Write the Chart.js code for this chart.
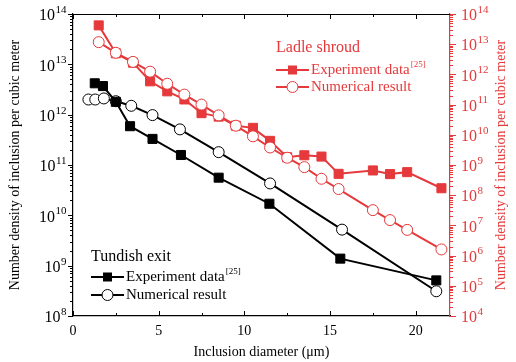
<!DOCTYPE html>
<html><head><meta charset="utf-8">
<script src="https://cdn.jsdelivr.net/npm/chart.js@4/dist/chart.umd.min.js"></script>
<style>html,body{margin:0;padding:0;background:#fff}#wrap{width:516px;height:362px}</style>
</head><body><div id="wrap"><canvas id="c" width="516" height="362"></canvas></div>
<script>
// ---- data ----
const tundishExpX = [1.27, 1.75, 2.5, 3.33, 4.64, 6.3, 8.5, 11.46, 15.6, 21.2];
const tundishExpY = [4.2e12, 3.7e12, 1.8e12, 5.9e11, 3.3e11, 1.58e11, 5.6e10, 1.7e10, 1.38e9, 5.1e8];
const tundishNumX = [0.9, 1.3, 1.8, 2.5, 3.4, 4.64, 6.24, 8.5, 11.5, 15.7, 21.2];
const tundishNumY = [2.0e12, 2.0e12, 2.1e12, 1.85e12, 1.5e12, 9.8e11, 5.1e11, 1.8e11, 4.3e10, 5.2e9, 3.1e8];
const ladleExpX = [1.5, 2.5, 3.5, 4.5, 5.5, 6.5, 7.5, 8.5, 9.5, 10.5, 11.5, 12.5, 13.5, 14.5, 15.5, 17.5, 18.5, 19.5, 21.5];
const ladleExpY = [4.2e13, 5.0e12, 2.45e12, 5.9e11, 2.75e11, 1.48e11, 5.2e10, 4.0e10, 2.0e10, 1.7e10, 6.3e9, 1.8e9, 2.1e9, 1.9e9, 5.1e8, 6.6e8, 5.0e8, 5.8e8, 1.7e8];
const ladleNumX = [1.5, 2.5, 3.5, 4.5, 5.5, 6.5, 7.5, 8.5, 9.5, 10.5, 11.5, 12.5, 13.5, 14.5, 15.5, 17.5, 18.5, 19.5, 21.5];
const ladleNumY = [1.17e13, 5.2e12, 2.6e12, 1.23e12, 4.9e11, 2.14e11, 1.0e11, 4.4e10, 2.0e10, 8.9e9, 3.8e9, 1.74e9, 8.5e8, 3.5e8, 1.6e8, 3.2e7, 1.5e7, 7.1e6, 1.6e6];
const xTicks = [0, 5, 10, 15, 20];
const leftDecades = [8, 9, 10, 11, 12, 13, 14];
const rightDecades = [4, 5, 6, 7, 8, 9, 10, 11, 12, 13, 14];
const yTitle = 'Number density of inclusion per cubic meter';
const xTitle = 'Inclusion diameter (\u03bcm)';
const ladleTitle = 'Ladle shroud';
const tundishTitle = 'Tundish exit';
const expLabel = 'Experiment data';
const expRef = '[25]';
const numLabel = 'Numerical result';

const RED = '#e5393b';
const FONT = '"Liberation Serif", "Times New Roman", serif';
const pts = (xs, ys) => xs.map((x, i) => ({x: x, y: ys[i]}));

const axisPlugin = {
  id: 'axisDeco',
  afterDraw(chart) {
    const ctx = chart.ctx;
    const xs = chart.scales.x, yl = chart.scales.y, yr = chart.scales.y2;
    const ca = chart.chartArea;
    ctx.save();
    // top frame line
    ctx.strokeStyle = '#000'; ctx.lineWidth = 1.2;
    ctx.beginPath(); ctx.moveTo(ca.left, ca.top + 0.5); ctx.lineTo(ca.right, ca.top + 0.5); ctx.stroke();
    // x ticks (inward, bottom and top)
    ctx.lineWidth = 1;
    for (let v = 0; v <= 22; v += 2.5) {
      const px = Math.round(xs.getPixelForValue(v)) + 0.5;
      const len = (v % 5 === 0) ? 5 : 3;
      ctx.beginPath();
      ctx.moveTo(px, ca.bottom); ctx.lineTo(px, ca.bottom - len);
      ctx.moveTo(px, ca.top); ctx.lineTo(px, ca.top + len);
      ctx.stroke();
    }
    // x tick labels
    ctx.fillStyle = '#000'; ctx.font = '14px ' + FONT;
    ctx.textAlign = 'center'; ctx.textBaseline = 'top';
    xTicks.forEach(v => ctx.fillText(String(v), xs.getPixelForValue(v), ca.bottom + 8));
    // log ticks (outward)
    const drawLogTicks = (scale, decs, x, dir, color, majLen, minLen) => {
      ctx.strokeStyle = color;
      for (let i = 0; i < decs.length; i++) {
        const d = decs[i];
        const mMax = (i === decs.length - 1) ? 1 : 9;
        for (let m = 1; m <= mMax; m++) {
          const py = Math.round(scale.getPixelForValue(m * Math.pow(10, d))) + 0.5;
          const len = m === 1 ? majLen : minLen;
          ctx.beginPath(); ctx.moveTo(x, py); ctx.lineTo(x + dir * len, py); ctx.stroke();
        }
      }
    };
    drawLogTicks(yl, leftDecades, ca.left, -1, '#000', 5, 3);
    drawLogTicks(yr, rightDecades, ca.right, 1, RED, 6, 3);
    // log tick labels
    const drawPow = (xPos, py, d, align, color) => {
      ctx.fillStyle = color;
      ctx.textBaseline = 'middle';
      ctx.font = '16px ' + FONT;
      const bw = ctx.measureText('10').width;
      ctx.font = '11px ' + FONT;
      const ew = ctx.measureText(String(d)).width;
      const x0 = align === 'right' ? xPos - bw - ew : xPos;
      ctx.textAlign = 'left';
      ctx.font = '16px ' + FONT;
      ctx.fillText('10', x0, py + 2);
      ctx.font = '11px ' + FONT;
      ctx.fillText(String(d), x0 + bw + 0.5, py - 4);
    };
    leftDecades.forEach(d => drawPow(ca.left - 7, yl.getPixelForValue(Math.pow(10, d)), d, 'right', '#000'));
    rightDecades.forEach(d => drawPow(ca.right + 11, yr.getPixelForValue(Math.pow(10, d)), d, 'left', RED));
    // y titles
    const midY = (ca.top + ca.bottom) / 2;
    ctx.font = '14px ' + FONT; ctx.textAlign = 'center'; ctx.textBaseline = 'middle';
    [[15, '#000'], [501, RED]].forEach(([tx, col]) => {
      ctx.save(); ctx.translate(tx, midY); ctx.rotate(-Math.PI / 2);
      ctx.fillStyle = col; ctx.fillText(yTitle, 0, 0); ctx.restore();
    });
    // legends
    const legend = (x0, yT, yE, yN, col, titleText) => {
      ctx.fillStyle = col; ctx.textAlign = 'left'; ctx.textBaseline = 'middle';
      ctx.font = '16px ' + FONT; ctx.fillText(titleText, x0, yT);
      const lx1 = x0, lx2 = x0 + 33, mx = x0 + 16.5;
      ctx.strokeStyle = col; ctx.lineWidth = 2;
      [yE, yN].forEach(yy => { ctx.beginPath(); ctx.moveTo(lx1, yy); ctx.lineTo(lx2, yy); ctx.stroke(); });
      ctx.fillStyle = col; ctx.fillRect(mx - 4.5, yE - 4.5, 9, 9);
      ctx.beginPath(); ctx.arc(mx, yN, 5.5, 0, Math.PI * 2); ctx.fillStyle = '#fff'; ctx.fill();
      ctx.lineWidth = 1; ctx.strokeStyle = col; ctx.stroke();
      ctx.fillStyle = col; ctx.font = '15px ' + FONT;
      ctx.fillText(expLabel, lx2 + 2, yE);
      const w = ctx.measureText(expLabel).width;
      ctx.font = '9px ' + FONT; ctx.fillText(expRef, lx2 + 3 + w, yE - 5);
      ctx.font = '15px ' + FONT; ctx.fillText(numLabel, lx2 + 2, yN);
    };
    legend(276, 48, 70, 87, RED, ladleTitle);
    ctx.lineWidth = 2;
    legend(91, 257, 277, 295, '#000', tundishTitle);
    ctx.restore();
  }
};

new Chart(document.getElementById('c'), {
  type: 'line',
  data: {
    datasets: [
      {label: 'Tundish exit - Experiment data', data: pts(tundishExpX, tundishExpY), yAxisID: 'y',
       borderColor: '#000', backgroundColor: '#000', borderWidth: 2, pointStyle: 'rect', pointRadius: 6.4,
       pointBorderWidth: 1, pointBorderColor: '#000', pointBackgroundColor: '#000', order: 1},
      {label: 'Tundish exit - Numerical result', data: pts(tundishNumX, tundishNumY), yAxisID: 'y',
       borderColor: '#000', backgroundColor: '#fff', borderWidth: 2, pointStyle: 'circle', pointRadius: 5.5,
       pointBorderWidth: 1, pointBorderColor: '#000', pointBackgroundColor: '#fff', order: 2},
      {label: 'Ladle shroud - Experiment data', data: pts(ladleExpX, ladleExpY), yAxisID: 'y2',
       borderColor: RED, backgroundColor: RED, borderWidth: 2, pointStyle: 'rect', pointRadius: 6.4,
       pointBorderWidth: 1, pointBorderColor: RED, pointBackgroundColor: RED, order: 4},
      {label: 'Ladle shroud - Numerical result', data: pts(ladleNumX, ladleNumY), yAxisID: 'y2',
       borderColor: RED, backgroundColor: '#fff', borderWidth: 2, pointStyle: 'circle', pointRadius: 5.5,
       pointBorderWidth: 1, pointBorderColor: RED, pointBackgroundColor: '#fff', order: 3}
    ]
  },
  options: {
    responsive: false, animation: false, devicePixelRatio: 1,
    layout: {padding: {top: 14, left: 0, right: 0, bottom: 0}},
    plugins: {legend: {display: false}, tooltip: {enabled: false}},
    scales: {
      x: {type: 'linear', min: 0, max: 22, position: 'bottom',
          grid: {display: false, drawTicks: false}, border: {display: true, color: '#000', width: 1.2},
          ticks: {display: false, stepSize: 5},
          title: {display: true, text: xTitle, color: '#000', font: {family: FONT, size: 14}, padding: {top: 0, bottom: 1}},
          afterFit: s => { s.height = 46; }},
      y: {type: 'logarithmic', min: 1e8, max: 1e14, position: 'left',
          grid: {display: false, drawTicks: false}, border: {display: true, color: '#000', width: 1.2},
          ticks: {display: false}, afterFit: s => { s.width = 73; }},
      y2: {type: 'logarithmic', min: 1e4, max: 1e14, position: 'right',
          grid: {display: false, drawTicks: false}, border: {display: true, color: RED, width: 1.2},
          ticks: {display: false}, afterFit: s => { s.width = 66; }}
    }
  },
  plugins: [axisPlugin]
});
</script></body></html>
